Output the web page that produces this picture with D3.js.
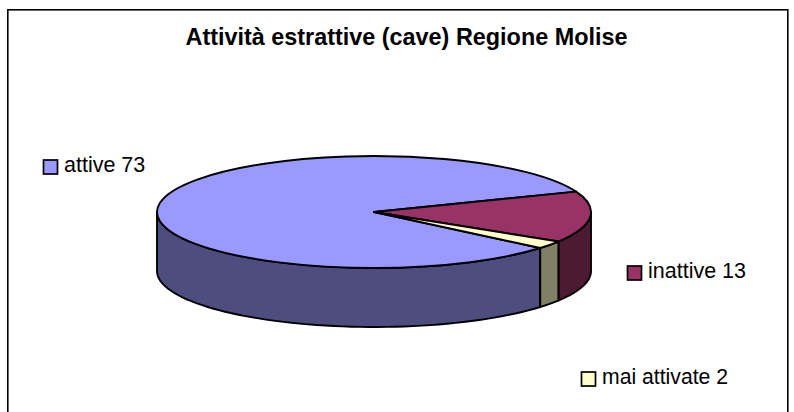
<!DOCTYPE html>
<html><head><meta charset="utf-8">
<script src="https://cdn.jsdelivr.net/npm/d3@7"></script>
<style>html,body{margin:0;padding:0;background:#fff}svg{display:block}text{font-family:"Liberation Sans",Arial,sans-serif;fill:#000}</style>
</head><body><svg id="c" width="794" height="412"></svg>
<script>
const categories = ["attive", "inattive", "mai attivate"];
const values = [73, 13, 2];
const topColors = ["#9999ff", "#993366", "#ffffcc"];
const sideColors = ["#4d4d80", "#4d1a33", "#808066"];
const titleText = "Attività estrattive (cave) Regione Molise";

const svg = d3.select("#c");
svg.append("rect").attr("x",7.8).attr("y",9.8).attr("width",780).attr("height",420)
  .attr("fill","#fff").attr("stroke","#000").attr("stroke-width",1.6);
svg.append("text").attr("x",406.5).attr("y",45).attr("text-anchor","middle")
  .attr("font-size",23.4).attr("font-weight","bold").text(titleText);

const cx=374, cy=212, rx=217, ry=56, depth=59;
const start = 130*Math.PI/180;
const pie = d3.pie().sort(null).startAngle(start).endAngle(start+2*Math.PI);
const arcs = pie(values);
const px = a => cx + rx*Math.sin(a);
const py = a => cy - ry*Math.cos(a);

// walls: visible part of each slice's rim (front half)
const g = svg.append("g");
const frontLo = Math.PI/2, frontHi = 3*Math.PI/2;
arcs.forEach((d,i)=>{
  for (const k of [0,2*Math.PI]) {
    const a0=Math.max(d.startAngle-k,frontLo), a1=Math.min(d.endAngle-k,frontHi);
    if (a1<=a0) continue;
    const as=d3.range(0,61).map(j=>a0+(a1-a0)*j/60);
    const pts=as.map(a=>[px(a),py(a)]).concat(as.slice().reverse().map(a=>[px(a),py(a)+depth]));
    g.append("path").attr("d",d3.line()(pts)+"Z").attr("fill",sideColors[i])
      .attr("stroke","#000").attr("stroke-width",1.9).attr("stroke-linejoin","round");
  }
});
// top face
const arc=d3.arc().innerRadius(0).outerRadius(rx);
const topG=svg.append("g").attr("transform",`translate(${cx},${cy}) scale(1,${ry/rx})`);
topG.selectAll("path").data(arcs).join("path").attr("d",arc)
  .attr("fill",(d,i)=>topColors[i]).attr("stroke","#000").attr("stroke-width",1.9)
  .attr("stroke-linejoin","round").attr("vector-effect","non-scaling-stroke");

// labels
const labelX=[64,648,602], labelY=[172,278,384], labelSize=[21.5,21.5,21.2];
categories.forEach((c,i)=>{
  svg.append("rect").attr("x",labelX[i]-20.5).attr("y",labelY[i]-12).attr("width",14).attr("height",14)
    .attr("fill",topColors[i]).attr("stroke","#000").attr("stroke-width",1.7);
  svg.append("text").attr("x",labelX[i]).attr("y",labelY[i]).attr("font-size",labelSize[i]).text(c+" "+values[i]);
});
</script></body></html>
